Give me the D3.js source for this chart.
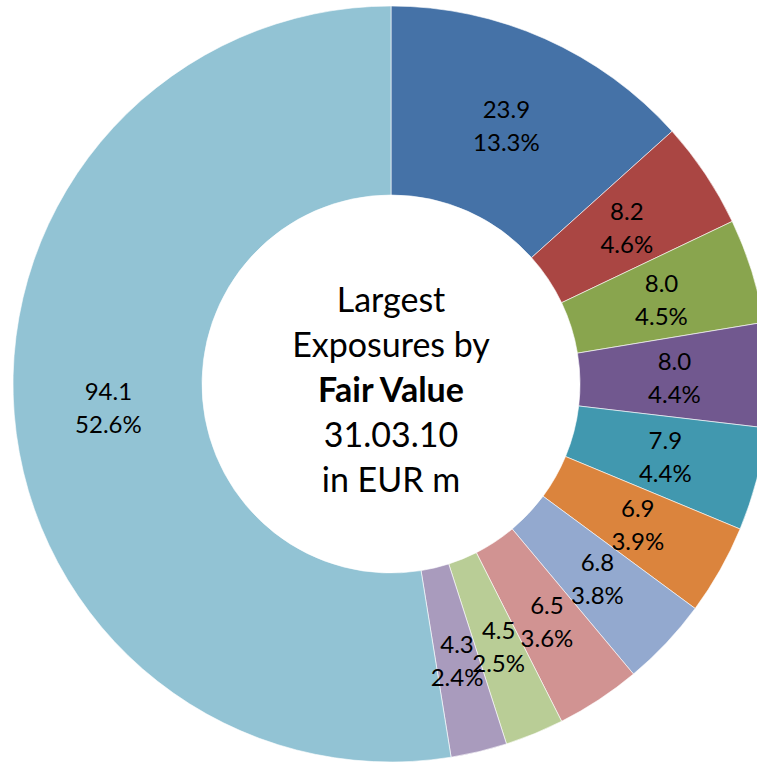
<!DOCTYPE html>
<html>
<head>
<meta charset="utf-8">
<script src="https://cdn.jsdelivr.net/npm/d3@7"></script>
<style>
  html, body { margin: 0; padding: 0; background: #ffffff; overflow: hidden; }
  svg { display: block; }
</style>
</head>
<body>
<svg id="chart" width="757" height="762"></svg>
<script>
// Largest exposures by fair value, 31.03.10, EUR m
const values = [23.9, 8.2, 8.0, 8.0, 7.9, 6.9, 6.8, 6.5, 4.5, 4.3, 94.1];
const shares = ["13.3%", "4.6%", "4.5%", "4.4%", "4.4%", "3.9%", "3.8%", "3.6%", "2.5%", "2.4%", "52.6%"];
const colors = ["#4572A7", "#AA4643", "#89A54E", "#71588F", "#4198AF", "#DB843D",
                "#93A9CF", "#D19392", "#B9CD96", "#A99BBD", "#92C3D4"];
const centerLines = [
  { text: "Largest", bold: false },
  { text: "Exposures by", bold: false },
  { text: "Fair Value", bold: true },
  { text: "31.03.10", bold: false },
  { text: "in EUR m", bold: false }
];

const font = "Lato, 'Open Sans', 'Noto Sans', sans-serif";
const svg = d3.select("#chart");
const cx = 391, cy = 384;
const outerR = 378, innerR = 189;

const g = svg.append("g").attr("transform", `translate(${cx},${cy})`);

const pie = d3.pie().sort(null).value(d => d.value);
const arc = d3.arc().innerRadius(innerR).outerRadius(outerR);
const labelArc = d3.arc().innerRadius((innerR + outerR) / 2).outerRadius((innerR + outerR) / 2);

const data = values.map((v, i) => ({ value: v, share: shares[i], color: colors[i] }));
const arcs = pie(data);

g.selectAll("path.slice")
  .data(arcs)
  .join("path")
  .attr("class", "slice")
  .attr("d", arc)
  .attr("fill", d => d.data.color)
  .attr("stroke", "#ffffff")
  .attr("stroke-width", 0.6);

const labels = g.selectAll("text.slice-label")
  .data(arcs)
  .join("text")
  .attr("class", "slice-label")
  .attr("transform", d => `translate(${labelArc.centroid(d)})`)
  .attr("text-anchor", "middle")
  .attr("font-family", font)
  .attr("font-size", 24)
  .attr("fill", "#000000");

labels.append("tspan").attr("x", 0).attr("y", -7).text(d => d.data.value.toFixed(1));
labels.append("tspan").attr("x", 0).attr("y", 26).text(d => d.data.share);

const center = g.append("text")
  .attr("text-anchor", "middle")
  .attr("font-family", font)
  .attr("font-size", 34)
  .attr("fill", "#000000");

center.selectAll("tspan")
  .data(centerLines)
  .join("tspan")
  .attr("x", 0)
  .attr("y", (d, i) => -72.5 + i * 45)
  .attr("font-weight", d => d.bold ? "bold" : "normal")
  .text(d => d.text);
</script>
</body>
</html>
